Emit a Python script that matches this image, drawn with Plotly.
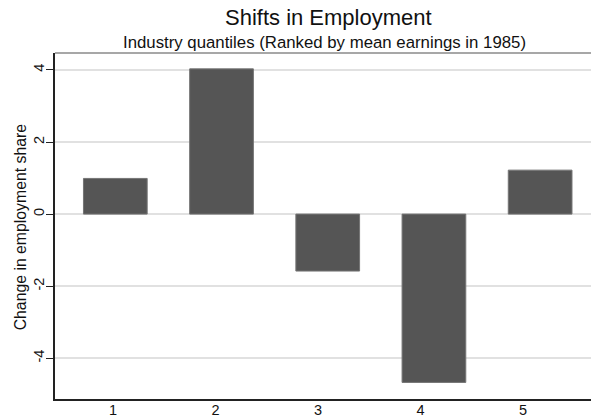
import plotly.graph_objects as go

quantiles = [1, 2, 3, 4, 5]
quantile_labels = ["1", "2", "3", "4", "5"]
employment_change = [0.99, 4.03, -1.58, -4.67, 1.22]
y_ticks = [-4, -2, 0, 2, 4]

FONT = "Liberation Sans, Arial, Helvetica, sans-serif"

fig = go.Figure()
fig.add_trace(go.Bar(
    x=quantiles, y=employment_change, width=0.6,
    marker=dict(color="#555555", line=dict(color="#757575", width=1)),
    xaxis="x", yaxis="y", showlegend=False,
))
# invisible trace to carry the label axis
fig.add_trace(go.Scatter(x=quantiles, y=[0]*len(quantiles), mode="markers",
                         marker=dict(opacity=0), xaxis="x2", yaxis="y",
                         showlegend=False, hoverinfo="skip"))

fig.update_layout(
    width=591, height=419,
    margin=dict(l=55, r=0, t=53, b=20, pad=0),
    paper_bgcolor="white", plot_bgcolor="white",
    font=dict(family=FONT, size=14, color="#111111"),
    xaxis=dict(range=[0.432, 5.479], showticklabels=False, ticks="",
               showgrid=False, zeroline=False, showline=True,
               linecolor="#222222", linewidth=1.5),
    xaxis2=dict(overlaying="x", anchor="y", side="bottom",
                range=[0.434, 5.663], tickvals=quantiles, ticktext=quantile_labels,
                ticks="", showgrid=False, zeroline=False, showline=False,
                tickfont=dict(size=14.5, color="#111111")),
    yaxis=dict(range=[-5.13, 4.47], tickvals=y_ticks,
               ticktext=[str(v) for v in y_ticks],
               tickangle=-90, ticks="outside", ticklen=7, tickwidth=1,
               tickcolor="#222222", showgrid=True, gridcolor="#e1e1e1",
               gridwidth=1.5, zeroline=True, zerolinecolor="#e1e1e1",
               zerolinewidth=1.5, showline=True, linecolor="#222222",
               linewidth=1.5, tickfont=dict(size=14.5, color="#111111"),
               ticklabelstandoff=-4),
    shapes=[dict(type="line", xref="paper", yref="paper", x0=0, x1=1.05,
                 y0=1, y1=1, line=dict(color="#8a8a8a", width=1.5))],
    annotations=[
        dict(text="Shifts in Employment", xref="paper", yref="paper",
             x=0.51, y=1.102, xanchor="center", yanchor="middle",
             showarrow=False, font=dict(size=22, color="#111111")),
        dict(text="Industry quantiles (Ranked by mean earnings in 1985)",
             xref="paper", yref="paper", x=0.502, y=1.030,
             xanchor="center", yanchor="middle", showarrow=False,
             font=dict(size=16.8, color="#111111")),
        dict(text="Change in employment share", xref="paper", yref="paper",
             x=-0.0653, y=0.499, xanchor="center", yanchor="middle",
             textangle=-90, showarrow=False,
             font=dict(size=15.8, color="#111111")),
    ],
)

fig.write_html("out.html", config={"displayModeBar": False},
               post_script="document.body.style.margin='0';document.body.style.overflow='hidden';")
